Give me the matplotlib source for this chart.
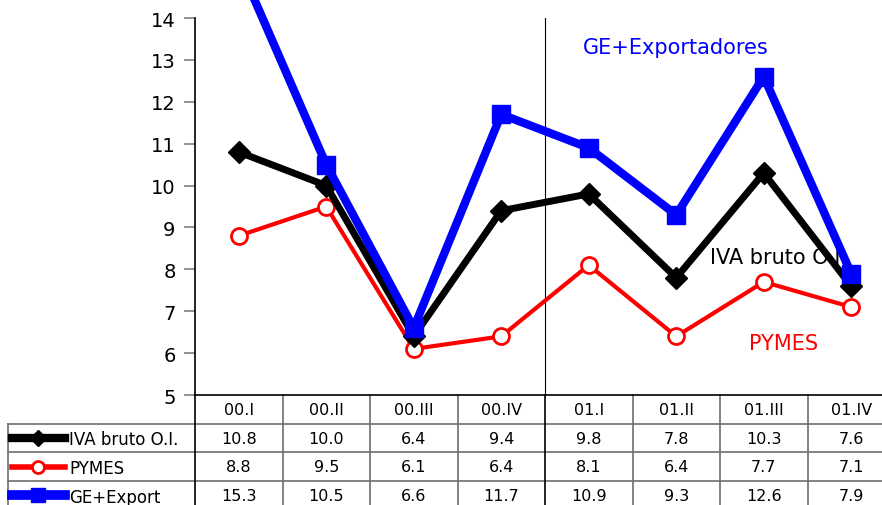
import matplotlib
matplotlib.use("Agg")
import matplotlib.pyplot as plt
from matplotlib.transforms import blended_transform_factory
from matplotlib.lines import Line2D

quarters = ['00.I', '00.II', '00.III', '00.IV', '01.I', '01.II', '01.III', '01.IV']
iva = [10.8, 10.0, 6.4, 9.4, 9.8, 7.8, 10.3, 7.6]
pymes = [8.8, 9.5, 6.1, 6.4, 8.1, 6.4, 7.7, 7.1]
ge_export = [15.3, 10.5, 6.6, 11.7, 10.9, 9.3, 12.6, 7.9]
row_names = ['IVA bruto O.I.', 'PYMES', 'GE+Export']
yticks = [5, 6, 7, 8, 9, 10, 11, 12, 13, 14]

W, H = 882, 506
fig = plt.figure(figsize=(W / 100, H / 100), dpi=100)
ax = fig.add_axes([195 / W, 1 - 396 / H, 700 / W, 377 / H])

x = list(range(len(quarters)))
ax.set_xlim(-0.5, len(quarters) - 0.5)
ax.set_ylim(5, 14)

# text labels sit below the lines
ax.text(5.0, 13.3, 'GE+Exportadores', color='#0000ff', fontsize=15, ha='center', va='center', zorder=1)
ax.text(5.39, 8.3, 'IVA bruto O.I.', color='black', fontsize=15, ha='left', va='center', zorder=1)
ax.text(6.23, 6.24, 'PYMES', color='#ff0000', fontsize=15, ha='center', va='center', zorder=1)

ax.axvline(3.5, color='black', lw=0.8, zorder=1)

styles = [
    dict(color='black', lw=5, marker='D', ms=11, mfc='black', mec='black'),
    dict(color='#ff0000', lw=3, marker='o', ms=11.5, mfc='white', mec='#ff0000', mew=2),
    dict(color='#0000ff', lw=6, marker='s', ms=13, mfc='#0000ff', mec='#0000ff'),
]
series = [iva, pymes, ge_export]
for vals, st, z in zip(series, styles, [3, 2, 4]):
    ax.plot(x, vals, clip_on=False, zorder=z, **st)

ax.set_yticks(yticks)
ax.tick_params(axis='y', direction='out', length=8, width=1.2, color='#808080', labelsize=14, pad=6)
ax.set_xticks([])
for s in ['top', 'right']:
    ax.spines[s].set_visible(False)
ax.spines['left'].set_linewidth(1.2)
ax.spines['bottom'].set_linewidth(1.2)
ax.spines['bottom'].set_color('black')

# data table below the axis
tr = blended_transform_factory(ax.transData, ax.transAxes)
rh = 28.7 / 377
xl = -0.5 - 187 / 87.5
xr = len(quarters) - 0.5
grey = '#6e6e6e'
fs = 11.5
# header row
for i, q in enumerate(quarters):
    ax.text(i, -rh / 2, q, transform=tr, ha='center', va='center', fontsize=fs, clip_on=False)
# horizontal rules
for k in range(1, 5):
    ax.add_line(Line2D([xl, xr], [-k * rh, -k * rh], transform=tr, color=grey, lw=1.2, clip_on=False))
# vertical rules
ax.add_line(Line2D([xl, xl], [-rh, -4.2 * rh], transform=tr, color=grey, lw=1.2, clip_on=False))
ax.add_line(Line2D([-0.5, -0.5], [0, -4.2 * rh], transform=tr, color='black', lw=1.2, clip_on=False))
for i in range(len(quarters)):
    c = 'black' if i == 3 else grey
    ax.add_line(Line2D([i + 0.5, i + 0.5], [0, -4.2 * rh], transform=tr, color=c, lw=1.2, clip_on=False))
# rows with legend keys
for r, (name, vals, st) in enumerate(zip(row_names, series, styles)):
    yc = -(r + 1.5) * rh
    key = dict(st)
    key['ms'] = key['ms'] * 0.75
    key['lw'] = key['lw'] + 1
    ax.add_line(Line2D([xl + 0.05, xl + 0.34, xl + 0.65], [yc, yc, yc], transform=tr,
                       clip_on=False, markevery=[1], **key))
    ax.text(xl + 0.7, yc - 0.05 * rh, name, transform=tr, ha='left', va='center', fontsize=fs + 0.5, clip_on=False)
    for i, v in enumerate(vals):
        ax.text(i, yc, f'{v:.1f}', transform=tr, ha='center', va='center', fontsize=fs, clip_on=False)

fig.savefig('out.png', dpi=100)
